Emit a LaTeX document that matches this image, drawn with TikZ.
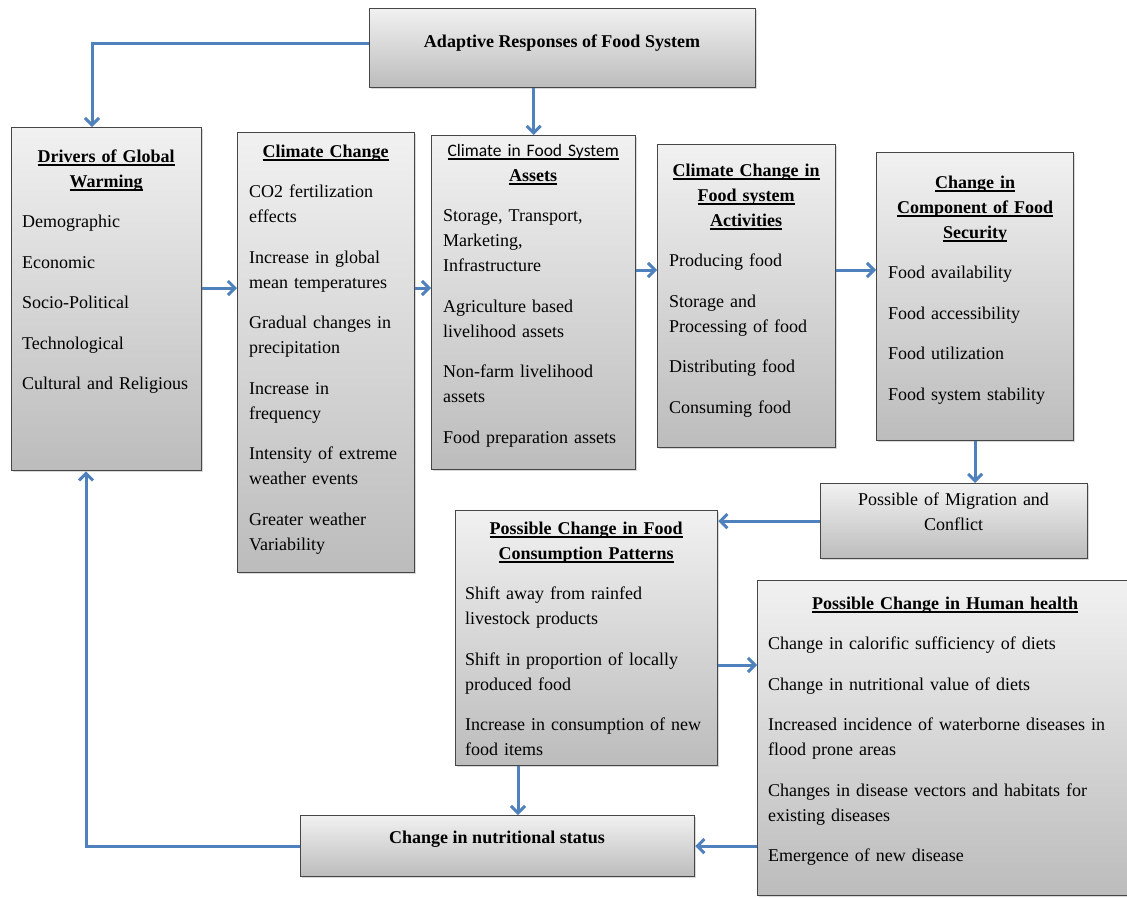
\documentclass[tikz,border=0pt]{standalone}
\usepackage{fontspec}
\setmainfont{Liberation Serif}
\newfontfamily\carlito{Carlito}
\usetikzlibrary{arrows.meta,shadows}
\definecolor{arrblue}{RGB}{79,129,189}
\definecolor{boxtop}{RGB}{241,241,241}
\definecolor{boxbot}{RGB}{188,188,188}
\definecolor{boxline}{RGB}{70,70,70}
\newcommand{\myul}[1]{\leavevmode\setbox0\hbox{#1}\rlap{\rule[-3.6pt]{\wd0}{1.2pt}}\box0}
\newcommand{\ttl}[1]{\myul{\textbf{#1}}}
\begin{document}
\begin{tikzpicture}[x=1pt,y=-1pt,
 box/.style={draw=boxline, line width=1.3pt, top color=boxtop, bottom color=boxbot, anchor=north west, inner sep=0pt,
   drop shadow={shadow xshift=1.8pt, shadow yshift=-1.8pt, opacity=0.3}},
 txt/.style={anchor=base west, inner sep=0pt, align=left, font=\fontsize{18}{25}\selectfont},
 arr/.style={draw=arrblue, line width=3pt, -{Straight Barb[length=7pt,width=14pt]}}
]
\useasboundingbox (0,0) rectangle (1127,897);

% boxes
\node[box, minimum width=386pt, minimum height=79pt] (adp) at (369,8) {};
\node[box, minimum width=190pt, minimum height=343pt] (drv) at (11,127) {};
\node[box, minimum width=177pt, minimum height=440pt] (cc) at (237,132) {};
\node[box, minimum width=204pt, minimum height=334pt] (ast) at (431,135) {};
\node[box, minimum width=178pt, minimum height=303pt] (act) at (657,144) {};
\node[box, minimum width=197pt, minimum height=288pt] (sec) at (876,152) {};
\node[box, minimum width=267pt, minimum height=75pt] (mig) at (820,483) {};
\node[box, minimum width=262pt, minimum height=255pt] (con) at (455,510) {};
\node[box, minimum width=380pt, minimum height=315pt] (hh) at (757,580) {};
\node[box, minimum width=394pt, minimum height=61pt] (nut) at (300,815) {};

% helper coordinates
\coordinate (r43) at (0,43);
\coordinate (r288) at (0,288);
\coordinate (r270) at (0,270);
\coordinate (r665) at (0,665);
\coordinate (c92) at (92,0);
\coordinate (c86) at (86,0);
\coordinate (c518) at (518,0);

% connectors
\draw[arr] (adp.west |- r43) -| (drv.north -| c92);
\draw[arr] (adp.south -| ast.north) -- (ast.north);
\draw[arr] (drv.east |- r288) -- (cc.west |- r288);
\draw[arr] (cc.east |- r288) -- (ast.west |- r288);
\draw[arr] (ast.east |- r270) -- (act.west |- r270);
\draw[arr] (act.east |- r270) -- (sec.west |- r270);
\draw[arr] (sec.south) -- (sec.south |- mig.north);
\draw[arr] (mig.west) -- (mig.west -| con.east);
\draw[arr] (con.east |- r665) -- (hh.west |- r665);
\draw[arr] (con.south -| c518) -- (nut.north -| c518);
\draw[arr] (hh.west |- nut.east) -- (nut.east);
\draw[arr] (nut.west) -| (drv.south -| c86);

% texts
\node[txt, anchor=base] (adp-t) at (562,47) {\textbf{Adaptive Responses of Food System}};

\node[txt, text width=168pt] (drv-t) at (22,162) {\setlength{\parskip}{15.5pt}{\centering\ttl{Drivers of Global}\\\ttl{Warming}\par}Demographic\par Economic\par Socio-Political\par Technological\par Cultural and Religious};

\node[txt, text width=153pt] (cc-t) at (249,157) {\setlength{\parskip}{15.5pt}{\centering\ttl{Climate Change}\par}CO2 fertilization\\effects\par Increase in global\\mean temperatures\par Gradual changes in\\precipitation\par Increase in\\frequency\par Intensity of extreme\\weather events\par Greater weather\\Variability};

\node[txt, text width=180pt] (ast-t) at (443,156) {\setlength{\parskip}{15.5pt}{\centering{\carlito\fontsize{17.5}{25}\selectfont\myul{Climate in Food System}}\\\ttl{Assets}\par}Storage, Transport,\\Marketing,\\Infrastructure\par Agriculture based\\livelihood assets\par Non-farm livelihood\\assets\par Food preparation assets};

\node[txt, text width=154pt] (act-t) at (669,176) {\setlength{\parskip}{15.5pt}{\centering\ttl{Climate Change in}\\\ttl{Food system}\\\ttl{Activities}\par}Producing food\par Storage and\\Processing of food\par Distributing food\par Consuming food};

\node[txt, text width=174pt] (sec-t) at (888,188) {\setlength{\parskip}{15.5pt}{\centering\ttl{Change in}\\\ttl{Component of Food}\\\ttl{Security}\par}Food availability\par Food accessibility\par Food utilization\par Food system stability};

\node[txt, anchor=base, align=center, text width=250pt] (mig-t) at (953.5,505) {Possible of Migration and\\Conflict};

\node[txt, text width=242pt] (con-t) at (465,534) {\setlength{\parskip}{15.5pt}{\centering\ttl{Possible Change in Food}\\\ttl{Consumption Patterns}\par}Shift away from rainfed\\livestock products\par Shift in proportion of locally\\produced food\par Increase in consumption of new\\food items};

\node[txt, text width=354pt] (hh-t) at (768,609) {\setlength{\parskip}{15.5pt}{\centering\ttl{Possible Change in Human health}\par}Change in calorific sufficiency of diets\par Change in nutritional value of diets\par Increased incidence of waterborne diseases in\\flood prone areas\par Changes in disease vectors and habitats for\\existing diseases\par Emergence of new disease};

\node[txt, anchor=base] (nut-t) at (497,843) {\textbf{Change in nutritional status}};
\end{tikzpicture}
\end{document}
